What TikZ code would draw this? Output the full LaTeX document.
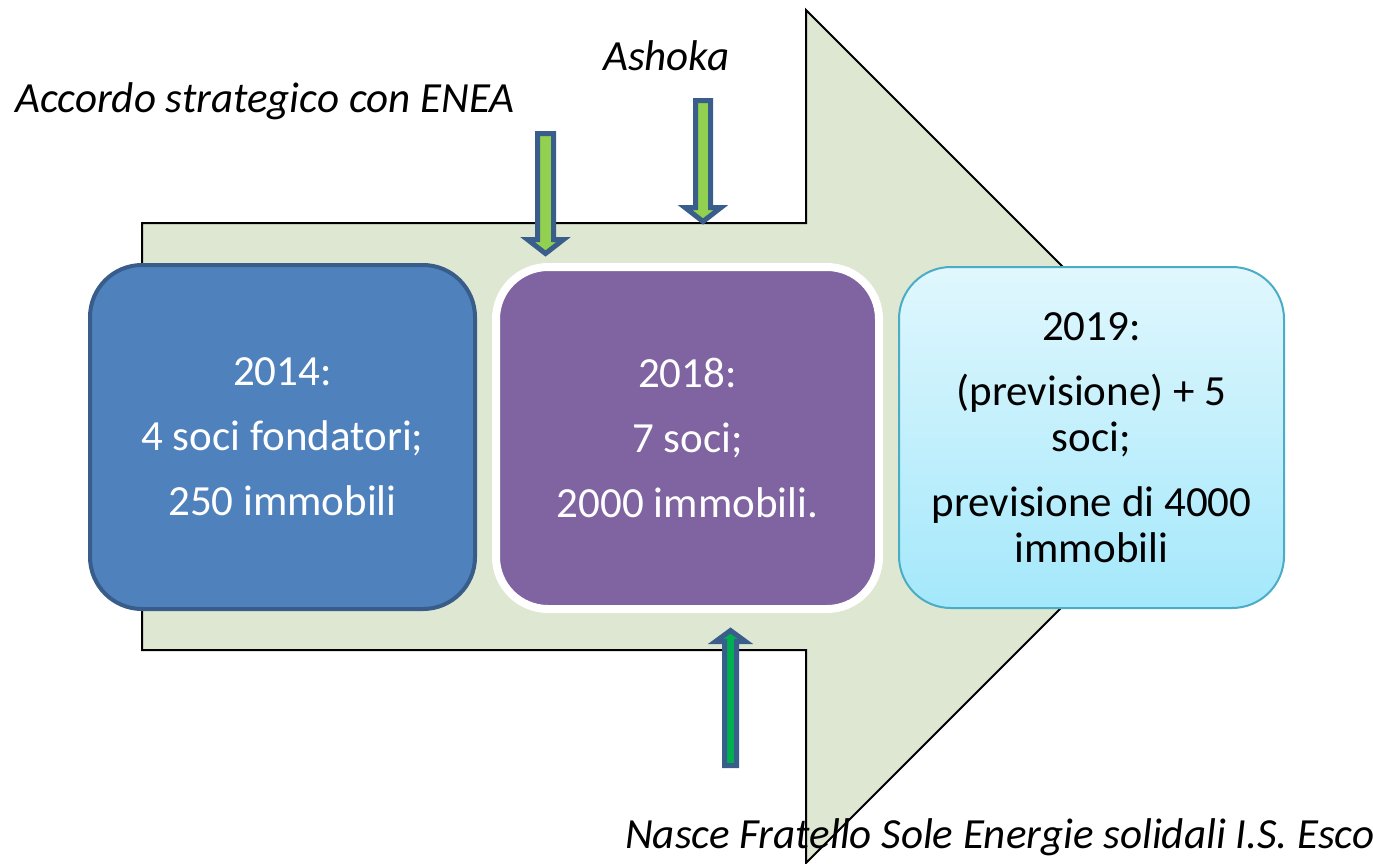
\documentclass[tikz,border=0pt]{standalone}
\usepackage{fontspec}
\setmainfont{Carlito}
\usepackage{xcolor}
\usepackage{tikz}
\usetikzlibrary{positioning, calc}
\definecolor{bodygreen}{RGB}{221, 231, 209}
\definecolor{stepblue}{RGB}{79, 129, 189}
\definecolor{stepblueline}{RGB}{56, 93, 138}
\definecolor{steppurple}{RGB}{128, 100, 162}
\definecolor{stepcyantop}{RGB}{224, 247, 253}
\definecolor{stepcyanbottom}{RGB}{164, 232, 251}
\definecolor{stepcyanline}{RGB}{75, 172, 198}
\definecolor{eventline}{RGB}{58, 94, 140}
\definecolor{eventlight}{RGB}{146, 208, 80}
\definecolor{eventdark}{RGB}{0, 176, 80}

% block arrow: [style] {x of axis} {tail y} {head base y} {shaft half width} {head half width} {tip y}
\newcommand{\blockarr}[7][]{%
  \filldraw[eventarrow, #1] ({#2-#5},#3) -- ({#2+#5},#3) -- ({#2+#5},#4) -- ({#2+#6},#4)
    -- (#2,#7) -- ({#2-#6},#4) -- ({#2-#5},#4) -- cycle;}

\begin{document}
\begin{tikzpicture}[
    x=1pt, y=-1pt,
    box/.style={rectangle, rounded corners=52pt, inner sep=0pt, align=center,
                font=\fontsize{43}{46}\selectfont},
    founding/.style={box, fill=stepblue, draw=stepblueline, line width=4pt, text=white,
                     minimum width=385pt, minimum height=344pt},
    current/.style={box, fill=steppurple, draw=white, line width=8pt, text=white,
                    minimum width=383pt, minimum height=342pt},
    forecast/.style={box, top color=stepcyantop, bottom color=stepcyanbottom, draw=stepcyanline,
                     line width=2pt, minimum width=385pt, minimum height=341pt},
    eventarrow/.style={draw=eventline, fill=eventlight, line width=5pt, line join=miter},
    event/.style={font=\fontsize{43}{46}\selectfont\itshape, inner sep=0pt, anchor=base west}
]
\useasboundingbox (0,0) rectangle (1373,863);

% Big timeline arrow
\filldraw[fill=bodygreen, draw=black, line width=2pt]
  (142,223) -- (806,223) -- (806,10) -- (1232.5,436.5) -- (806,863) -- (806,650) -- (142,650) -- cycle;

% Steps
\node[founding] (y2014) at (282.5,437) {2014:\\[19pt] 4 soci fondatori;\\[19pt] 250 immobili};
\node[current] (y2018) at (687.5,438) {2018:\\[19pt] 7 soci;\\[19pt] 2000 immobili.};
\node[forecast] (y2019) at (1091.5,437.5) {2019:\\[19pt] (previsione) + 5\\ soci;\\[19pt] previsione di 4000\\ immobili};

% Events
\node[event] (enea) at (15,112) {Accordo strategico con ENEA};
\node[event] (ashoka) at (603,70) {Ashoka};
\node[event] (nasce) at (625,848) {Nasce Fratello Sole Energie solidali I.S. Esco};

\blockarr{545.5}{133.5}{239.5}{8}{18}{253.5}
\blockarr{703}{100.5}{207.5}{7.5}{18}{221.5}
\blockarr[fill=eventdark]{730.5}{765.5}{641.5}{6}{15}{630.5}

\end{tikzpicture}
\end{document}
